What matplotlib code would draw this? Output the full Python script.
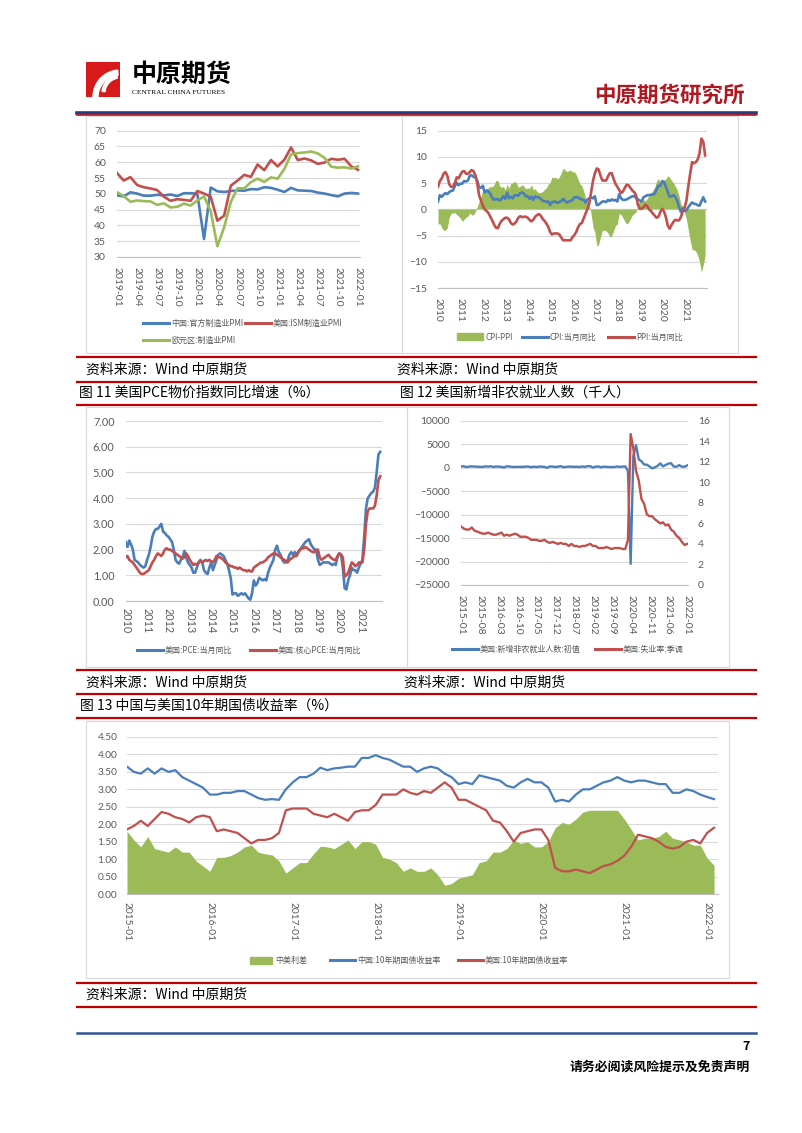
import numpy as np
import matplotlib
matplotlib.use('Agg')
import matplotlib.pyplot as plt
from matplotlib.lines import Line2D
from matplotlib.patches import Rectangle, Wedge

plt.rcParams['font.family'] = ['Noto Sans CJK SC', 'DejaVu Sans']

# ---------------- data ----------------
# Fig 10: PMI, monthly 2019-01 .. 2022-01
pmi_ticks = ['2019-01', '2019-04', '2019-07', '2019-10', '2020-01', '2020-04', '2020-07',
             '2020-10', '2021-01', '2021-04', '2021-07', '2021-10', '2022-01']
china_pmi = [49.5, 49.2, 50.5, 50.1, 49.4, 49.4, 49.7, 49.5, 49.8, 49.3, 50.2, 50.2,
             50.0, 35.7, 52.0, 50.8, 50.6, 50.9, 51.1, 51.0, 51.5, 51.4, 52.1, 51.9,
             51.3, 50.6, 51.9, 51.1, 51.0, 50.9, 50.4, 50.1, 49.6, 49.2, 50.1, 50.3,
             50.1]
us_ism = [56.6, 54.2, 55.3, 52.8, 52.1, 51.7, 51.2, 49.1, 47.8, 48.3, 48.1, 47.8,
          50.9, 50.1, 49.1, 41.5, 43.1, 52.6, 54.2, 56.0, 55.4, 59.3, 57.5, 60.7,
          58.7, 60.8, 64.7, 60.7, 61.2, 60.6, 59.5, 59.9, 61.1, 60.8, 61.1, 58.7,
          57.6]
euro_pmi = [50.5, 49.3, 47.5, 47.9, 47.7, 47.6, 46.5, 47.0, 45.7, 45.9, 46.9, 46.3,
            47.9, 49.2, 44.5, 33.4, 39.4, 47.4, 51.8, 51.7, 53.7, 54.8, 53.8, 55.2,
            54.8, 57.9, 62.5, 62.9, 63.1, 63.4, 62.8, 61.4, 58.6, 58.3, 58.4, 58.0,
            58.7]

# CPI / PPI, monthly 2010-01 .. 2021-12
year_ticks = ['2010', '2011', '2012', '2013', '2014', '2015', '2016', '2017',
              '2018', '2019', '2020', '2021']
china_cpi = [1.5, 2.7, 2.4, 2.8, 3.1, 2.9, 3.3, 3.5, 3.6, 4.4, 5.1, 4.6,
             4.9, 4.9, 5.4, 5.3, 5.5, 6.4, 6.5, 6.2, 6.1, 5.5, 4.2, 4.1,
             4.5, 3.2, 3.6, 3.4, 3.0, 2.2, 1.8, 2.0, 1.9, 1.7, 2.0, 2.5,
             2.0, 3.2, 2.1, 2.4, 2.1, 2.7, 2.7, 2.6, 3.1, 3.2, 3.0, 2.5,
             2.5, 2.0, 2.4, 1.8, 2.5, 2.3, 2.3, 2.0, 1.6, 1.6, 1.4, 1.5,
             0.8, 1.4, 1.4, 1.5, 1.2, 1.4, 1.6, 2.0, 1.6, 1.3, 1.5, 1.6,
             1.8, 2.3, 2.3, 2.3, 2.0, 1.9, 1.8, 1.3, 1.9, 2.1, 2.3, 2.1,
             2.5, 0.8, 0.9, 1.2, 1.5, 1.5, 1.4, 1.8, 1.6, 1.9, 1.7, 1.8,
             1.5, 2.9, 2.1, 1.8, 1.8, 1.9, 2.1, 2.3, 2.5, 2.5, 2.2, 1.9,
             1.7, 1.5, 2.3, 2.5, 2.7, 2.7, 2.8, 2.8, 3.0, 3.8, 4.5, 4.5,
             5.4, 5.2, 4.3, 3.3, 2.4, 2.5, 2.7, 2.4, 1.7, 0.5, -0.5, 0.2,
             -0.3, -0.2, 0.4, 0.9, 1.3, 1.1, 1.0, 0.8, 0.7, 1.5, 2.3, 1.5]
china_ppi = [4.3, 5.4, 5.9, 6.8, 7.1, 6.4, 4.8, 4.3, 4.3, 5.0, 6.1, 5.9,
             6.6, 7.2, 7.3, 6.8, 6.8, 7.1, 7.5, 7.3, 6.5, 5.0, 2.7, 1.7,
             0.7, 0.0, -0.3, -0.7, -1.4, -2.1, -2.9, -3.5, -3.6, -2.8, -2.2, -1.9,
             -1.6, -1.6, -1.9, -2.6, -2.9, -2.7, -2.3, -1.6, -1.3, -1.5, -1.4, -1.4,
             -1.6, -2.0, -2.3, -2.0, -1.4, -1.1, -0.9, -1.2, -1.8, -2.2, -2.7, -3.3,
             -4.3, -4.8, -4.6, -4.6, -4.6, -4.8, -5.4, -5.9, -5.9, -5.9, -5.9, -5.9,
             -5.3, -4.9, -4.3, -3.4, -2.8, -2.6, -1.7, -0.8, 0.1, 1.2, 3.3, 5.5,
             6.9, 7.8, 7.6, 6.4, 5.5, 5.5, 5.5, 6.3, 6.9, 6.9, 5.8, 4.9,
             4.3, 3.7, 3.1, 3.4, 4.1, 4.7, 4.6, 4.1, 3.6, 3.3, 2.7, 0.9,
             0.1, 0.1, 0.4, 0.9, 0.6, 0.0, -0.3, -0.8, -1.2, -1.6, -1.4, -0.5,
             0.1, -0.4, -1.5, -3.1, -3.7, -3.0, -2.4, -2.0, -2.1, -2.1, -1.5, -0.4,
             0.3, 1.7, 4.4, 6.8, 9.0, 8.8, 9.0, 9.5, 10.7, 13.5, 12.9, 10.3]

# Fig 11: US PCE yoy, monthly 2010-01 .. 2021-12
pce = [2.30, 2.10, 2.35, 2.20, 2.00, 1.60, 1.55, 1.50, 1.40, 1.35, 1.30, 1.35,
       1.60, 1.80, 2.10, 2.50, 2.70, 2.80, 2.80, 2.90, 3.00, 2.70, 2.65, 2.55,
       2.50, 2.40, 2.30, 2.00, 1.60, 1.50, 1.45, 1.60, 1.70, 1.95, 1.70, 1.50,
       1.40, 1.30, 1.10, 1.10, 1.30, 1.50, 1.60, 1.50, 1.20, 1.10, 1.05, 1.30,
       1.50, 1.20, 1.40, 1.60, 1.80, 1.85, 1.80, 1.75, 1.60, 1.45, 1.20, 0.90,
       0.25, 0.30, 0.30, 0.20, 0.25, 0.30, 0.25, 0.30, 0.20, 0.10, 0.05, 0.30,
       0.80, 0.60, 0.70, 0.90, 0.85, 0.80, 0.85, 0.80, 1.10, 1.30, 1.45, 1.60,
       2.00, 2.15, 1.90, 1.80, 1.60, 1.50, 1.50, 1.60, 1.80, 1.90, 1.80, 1.90,
       1.80, 1.90, 2.00, 2.10, 2.20, 2.30, 2.35, 2.40, 2.20, 2.10, 2.00, 2.00,
       1.60, 1.40, 1.45, 1.50, 1.50, 1.50, 1.50, 1.45, 1.40, 1.45, 1.40, 1.70,
       1.85, 1.80, 1.30, 0.50, 0.45, 0.80, 1.00, 1.30, 1.20, 1.20, 1.10, 1.30,
       1.45, 1.60, 2.50, 3.60, 4.00, 4.10, 4.20, 4.25, 4.40, 5.00, 5.70, 5.80]
core_pce = [1.70, 1.75, 1.60, 1.55, 1.50, 1.40, 1.30, 1.20, 1.10, 1.05, 1.05, 1.10,
            1.15, 1.20, 1.35, 1.50, 1.60, 1.75, 1.85, 1.80, 1.75, 1.85, 2.00, 2.05,
            2.00, 2.00, 1.95, 1.90, 1.85, 1.80, 1.75, 1.70, 1.65, 1.70, 1.85, 1.75,
            1.60, 1.50, 1.40, 1.45, 1.40, 1.50, 1.55, 1.50, 1.55, 1.60, 1.55, 1.60,
            1.55, 1.50, 1.60, 1.75, 1.70, 1.70, 1.65, 1.60, 1.50, 1.45, 1.40, 1.35,
            1.35, 1.30, 1.30, 1.25, 1.30, 1.25, 1.20, 1.20, 1.15, 1.20, 1.15, 1.15,
            1.30, 1.35, 1.40, 1.45, 1.50, 1.50, 1.55, 1.60, 1.70, 1.75, 1.80, 1.85,
            1.85, 1.80, 1.75, 1.70, 1.65, 1.60, 1.55, 1.50, 1.60, 1.65, 1.70, 1.75,
            1.75, 1.90, 2.00, 2.05, 2.05, 2.10, 2.05, 2.00, 1.95, 1.90, 1.90, 1.95,
            2.00, 1.70, 1.60, 1.65, 1.70, 1.75, 1.80, 1.70, 1.65, 1.60, 1.60, 1.75,
            1.85, 1.80, 1.70, 0.95, 1.00, 1.10, 1.30, 1.50, 1.45, 1.35, 1.40, 1.50,
            1.50, 1.50, 2.00, 3.00, 3.50, 3.60, 3.60, 3.60, 3.70, 4.10, 4.70, 4.85]

# Fig 12: US nonfarm payrolls (k) and unemployment rate, monthly 2015-01 .. 2022-01
nfp_ticks = ['2015-01', '2015-08', '2016-03', '2016-10', '2017-05', '2017-12', '2018-07',
             '2019-02', '2019-09', '2020-04', '2020-11', '2021-06', '2022-01']
nfp = [257, 295, 126, 223, 280, 223, 215, 173, 142, 271, 211, 292,
       151, 242, 215, 160, 38, 287, 255, 151, 156, 161, 178, 156,
       227, 235, 98, 211, 138, 222, 209, 156, -33, 261, 228, 148,
       200, 313, 103, 164, 223, 213, 157, 201, 134, 250, 155, 312,
       304, 20, 196, 263, 75, 224, 164, 130, 136, 128, 266, 145,
       225, 273, -701, -20500, 2509, 4800, 1763, 1371, 661, 638, 245, -140,
       49, 379, 916, 266, 559, 850, 943, 235, 194, 531, 210, 199,
       467]
unemp = [5.7, 5.5, 5.4, 5.4, 5.6, 5.3, 5.2, 5.1, 5.0, 5.0, 5.1, 5.0,
         4.9, 4.9, 5.0, 5.1, 4.8, 4.9, 4.8, 4.9, 5.0, 4.9, 4.7, 4.7,
         4.7, 4.6, 4.4, 4.4, 4.4, 4.3, 4.3, 4.4, 4.2, 4.1, 4.2, 4.1,
         4.0, 4.1, 4.0, 4.0, 3.8, 4.0, 3.8, 3.8, 3.7, 3.8, 3.8, 3.9,
         4.0, 3.8, 3.8, 3.6, 3.6, 3.6, 3.7, 3.6, 3.5, 3.6, 3.6, 3.6,
         3.5, 3.5, 4.4, 14.7, 13.3, 11.1, 10.2, 8.4, 7.9, 6.9, 6.7, 6.7,
         6.4, 6.2, 6.0, 6.1, 5.8, 5.9, 5.4, 5.2, 4.8, 4.6, 4.2, 3.9,
         4.0]

# Fig 13: 10y government bond yields, monthly 2015-01 .. 2022-02
bond_ticks = ['2015-01', '2016-01', '2017-01', '2018-01', '2019-01', '2020-01',
              '2021-01', '2022-01']
cn10y = [3.65, 3.50, 3.45, 3.60, 3.45, 3.60, 3.50, 3.55, 3.35, 3.25, 3.15, 3.05,
         2.85, 2.85, 2.90, 2.90, 2.95, 2.95, 2.85, 2.75, 2.70, 2.72, 2.70, 3.00,
         3.20, 3.35, 3.35, 3.45, 3.62, 3.55, 3.60, 3.62, 3.65, 3.65, 3.90, 3.90,
         3.98, 3.90, 3.85, 3.75, 3.65, 3.65, 3.50, 3.60, 3.65, 3.60, 3.45, 3.35,
         3.15, 3.20, 3.15, 3.40, 3.35, 3.30, 3.25, 3.10, 3.05, 3.20, 3.30, 3.20,
         3.20, 3.05, 2.65, 2.70, 2.65, 2.85, 3.00, 3.00, 3.10, 3.20, 3.25, 3.35,
         3.25, 3.20, 3.25, 3.25, 3.20, 3.15, 3.15, 2.90, 2.90, 3.00, 2.95, 2.85,
         2.78, 2.72]
us10y = [1.85, 1.95, 2.10, 1.95, 2.15, 2.35, 2.30, 2.20, 2.15, 2.05, 2.20, 2.25,
         2.20, 1.80, 1.85, 1.80, 1.75, 1.60, 1.45, 1.55, 1.55, 1.60, 1.75, 2.40,
         2.45, 2.45, 2.45, 2.30, 2.25, 2.20, 2.30, 2.20, 2.10, 2.35, 2.40, 2.40,
         2.55, 2.85, 2.85, 2.85, 3.00, 2.90, 2.85, 2.95, 2.90, 3.05, 3.20, 3.05,
         2.70, 2.70, 2.60, 2.50, 2.40, 2.10, 2.05, 1.80, 1.50, 1.75, 1.80, 1.85,
         1.85, 1.55, 0.75, 0.65, 0.65, 0.70, 0.65, 0.60, 0.70, 0.80, 0.85, 0.95,
         1.10, 1.35, 1.70, 1.65, 1.60, 1.50, 1.35, 1.30, 1.35, 1.50, 1.55, 1.45,
         1.75, 1.90]

# ---------------- page setup ----------------
W, H = 802, 1133
BLUE = '#4A7EBB'
RED = '#C0504D'
GREEN = '#9BBB59'
GRID = '#D9D9D9'
TXT = '#595959'
SEP = '#C00000'

fig = plt.figure(figsize=(W / 100, H / 100), dpi=100)


def fy(py):
    return 1 - py / H


def add_ax(x0, y0, x1, y1):
    return fig.add_axes([x0 / W, fy(y1), (x1 - x0) / W, (y1 - y0) / H])


def hline(y, color, lw, x0=77, x1=756):
    fig.add_artist(Line2D([x0 / W, x1 / W], [fy(y), fy(y)], color=color, lw=lw,
                          transform=fig.transFigure))


def box(x0, y0, x1, y1):
    fig.add_artist(Rectangle((x0 / W, fy(y1)), (x1 - x0) / W, (y1 - y0) / H, fill=False,
                             ec=GRID, lw=0.8, transform=fig.transFigure))


def leg_line(x, y, color, text, n=26):
    fig.add_artist(Line2D([x / W, (x + n) / W], [fy(y), fy(y)], color=color, lw=2.2,
                          transform=fig.transFigure))
    fig.text((x + n + 2) / W, fy(y), text, fontsize=5.8, color=TXT, va='center')


def leg_patch(x, y, color, text, n=26):
    fig.add_artist(Rectangle((x / W, fy(y + 3.5)), n / W, 7 / H, color=color,
                             transform=fig.transFigure))
    fig.text((x + n + 3) / W, fy(y), text, fontsize=5.8, color=TXT, va='center')


def style(ax, fs=7.5, xpad=6, ypad=7):
    for s in ['top', 'right', 'left']:
        ax.spines[s].set_visible(False)
    ax.spines['bottom'].set_color('#BFBFBF')
    ax.spines['bottom'].set_linewidth(0.8)
    ax.grid(axis='y', color=GRID, lw=0.8)
    ax.set_axisbelow(True)
    ax.tick_params(axis='both', length=0, labelsize=fs, labelcolor=TXT)
    ax.tick_params(axis='x', pad=xpad)
    ax.tick_params(axis='y', pad=ypad)
    for lab in ax.get_xticklabels() + ax.get_yticklabels():
        lab.set_family('Lato')


# header
logo = add_ax(86, 62, 120, 97)
logo.set_xlim(0, 34)
logo.set_ylim(0, 35)
logo.axis('off')
logo.add_patch(Rectangle((0, 0), 34, 35, color='#D7191C'))
logo.add_patch(Wedge((34, 0), 27, 95, 180, width=5, color='white'))
logo.add_patch(Wedge((34, 4), 18, 100, 175, width=3, color='white'))
fig.text(132 / W, fy(75), '中原期货', fontsize=18, fontweight='bold', color='black', va='center')
fig.text(132 / W, fy(93), 'CENTRAL CHINA FUTURES', fontsize=5.3, family='Liberation Serif',
         color='black', va='center')
fig.text(745 / W, fy(95), '中原期货研究所', fontsize=15.5, fontweight='bold', color='#B0171F',
         ha='right', va='center')
hline(112.5, '#253D80', 2.6)
hline(115, '#C0141B', 1.2)

# chart frames
box(86, 116, 402, 353)
box(402, 116, 738, 353)
box(86, 407, 407, 667)
box(407, 407, 729, 667)
box(86, 721, 729, 978)

# separators and captions
for y in [357, 382, 405, 670, 694, 718, 983, 1007]:
    hline(y, SEP, 1.6)
src = '资料来源：Wind 中原期货'
fig.text(86 / W, fy(370), src, fontsize=10, va='center')
fig.text(397 / W, fy(370), src, fontsize=10, va='center')
fig.text(79 / W, fy(393), '图 11 美国PCE物价指数同比增速（%）', fontsize=10, va='center')
fig.text(400 / W, fy(393), '图 12 美国新增非农就业人数（千人）', fontsize=10, va='center')
fig.text(86 / W, fy(683), src, fontsize=10, va='center')
fig.text(404 / W, fy(683), src, fontsize=10, va='center')
fig.text(80 / W, fy(706), '图 13 中国与美国10年期国债收益率（%）', fontsize=10, va='center')
fig.text(86 / W, fy(995), src, fontsize=10, va='center')

# footer
hline(1033, '#2F5597', 1.8)
fig.text(750 / W, fy(1046), '7', fontsize=9, fontweight='bold', ha='right', va='center')
fig.text(750 / W, fy(1067), '请务必阅读风险提示及免责声明', fontsize=9.3, fontweight='bold',
         ha='right', va='center')

# ---- PMI chart ----
ax1 = add_ax(117, 130.7, 360, 257)
x = np.arange(len(china_pmi))
ax1.plot(x, china_pmi, color=BLUE, lw=1.9)
ax1.plot(x, us_ism, color=RED, lw=1.9)
ax1.plot(x, euro_pmi, color=GREEN, lw=1.9)
ax1.set_ylim(30, 70)
ax1.set_yticks(range(30, 71, 5))
ax1.set_xlim(0, 36.3)
ax1.set_xticks(range(0, 37, 3))
ax1.set_xticklabels(pmi_ticks, rotation=-90)
style(ax1, fs=7.5, xpad=7, ypad=8)
leg_line(143, 323, BLUE, '中国:官方制造业PMI')
leg_line(245, 323, RED, '美国:ISM制造业PMI')
leg_line(143, 340, GREEN, '欧元区:制造业PMI')

# ---- CPI/PPI chart ----
ax2 = add_ax(438, 130.7, 707, 288)
x = np.arange(len(china_cpi))
gap = np.array(china_cpi) - np.array(china_ppi)
ax2.fill_between(x, 0, gap, color=GREEN, lw=0)
ax2.axhline(0, color='#BFBFBF', lw=0.8)
ax2.plot(x, china_cpi, color=BLUE, lw=1.9)
ax2.plot(x, china_ppi, color=RED, lw=1.9)
ax2.set_ylim(-15, 15)
ax2.set_yticks(range(-15, 16, 5))
ax2.set_xlim(0, 144)
ax2.set_xticks(range(0, 144, 12))
ax2.set_xticklabels(year_ticks, rotation=-90)
style(ax2, fs=7.5, xpad=7, ypad=8)
leg_patch(457, 337, GREEN, 'CPI-PPI')
leg_line(522, 337, BLUE, 'CPI:当月同比')
leg_line(608, 337, RED, 'PPI:当月同比')

# ---- PCE chart ----
ax3 = add_ax(125.7, 421, 382, 601)
x = np.arange(len(pce))
ax3.plot(x, pce, color=BLUE, lw=1.9)
ax3.plot(x, core_pce, color=RED, lw=1.9)
ax3.set_ylim(0, 7)
ax3.set_yticks(np.arange(0, 7.5, 1))
ax3.yaxis.set_major_formatter(matplotlib.ticker.FormatStrFormatter('%.2f'))
ax3.set_xlim(0, 144)
ax3.set_xticks(range(0, 144, 12))
ax3.set_xticklabels(year_ticks, rotation=-90)
style(ax3, fs=7.8, xpad=5, ypad=8)
leg_line(137, 650, BLUE, '美国:PCE:当月同比')
leg_line(250, 650, RED, '美国:核心PCE:当月同比')

# ---- nonfarm chart ----
ax4 = add_ax(461, 420.7, 688, 585)
x = np.arange(len(nfp))
ax4.plot(x, nfp, color=BLUE, lw=1.7)
ax4.set_ylim(-25000, 10000)
ax4.set_yticks(range(-25000, 10001, 5000))
ax4.set_xlim(0, 84.3)
ax4.set_xticks(range(0, 85, 7))
ax4.set_xticklabels(nfp_ticks, rotation=-90)
style(ax4, fs=7.5, xpad=7, ypad=8)
ax4r = ax4.twinx()
ax4r.plot(x, unemp, color=RED, lw=1.7)
ax4r.set_ylim(0, 16)
ax4r.set_yticks(range(0, 17, 2))
for s in ['top', 'right', 'left', 'bottom']:
    ax4r.spines[s].set_visible(False)
ax4r.tick_params(length=0, labelsize=7.5, labelcolor=TXT, pad=7)
for lab in ax4r.get_yticklabels():
    lab.set_family('Lato')
leg_line(452, 649, BLUE, '美国:新增非农就业人数:初值')
leg_line(595, 649, RED, '美国:失业率:季调')

# ---- bond yields chart ----
ax5 = add_ax(127, 737, 717.5, 894)
x = np.arange(len(cn10y))
spread = np.array(cn10y) - np.array(us10y)
ax5.fill_between(x, 0, spread, color=GREEN, lw=0)
ax5.plot(x, cn10y, color=BLUE, lw=1.6)
ax5.plot(x, us10y, color=RED, lw=1.6)
ax5.set_ylim(0, 4.5)
ax5.set_yticks(np.arange(0, 4.51, 0.5))
ax5.yaxis.set_major_formatter(matplotlib.ticker.FormatStrFormatter('%.2f'))
ax5.set_xlim(0, 85.5)
ax5.set_xticks(range(0, 85, 12))
ax5.set_xticklabels(bond_ticks, rotation=-90)
style(ax5, fs=7.3, xpad=6, ypad=7)
leg_patch(250, 960, GREEN, '中美利差', n=22)
leg_line(330, 960, BLUE, '中国:10年期国债收益率', n=25)
leg_line(458, 960, RED, '美国:10年期国债收益率', n=25)

fig.savefig('out.png', dpi=100)
